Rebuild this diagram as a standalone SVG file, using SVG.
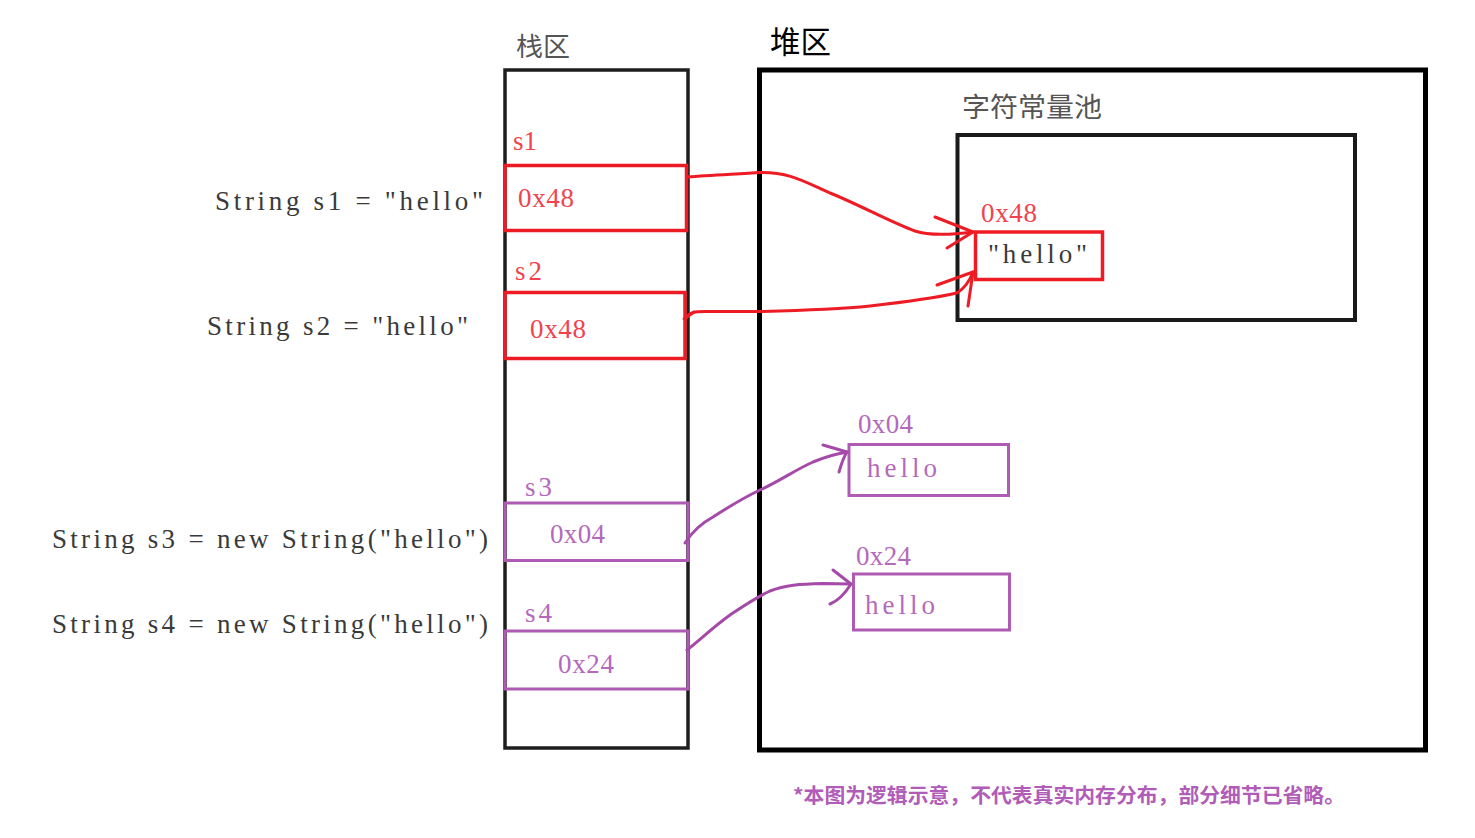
<svg xmlns="http://www.w3.org/2000/svg" width="1475" height="838" viewBox="0 0 1475 838">
<style>
  .code { font-family: "Liberation Serif", "Times New Roman", serif; font-size: 27px; fill: #3a3a3a; }
  .red { fill: #f0434e; }
  .pur { fill: #b569bd; }
  .gray { fill: #3a3a3a; }
  .cjk { font-family: "Noto Sans CJK SC", "Noto Sans", sans-serif; }
  .rbox { fill: none; stroke: #ed1c24; stroke-width: 3.5; }
  .pbox { fill: none; stroke: #ad5bb3; stroke-width: 3; }
  .rline { fill: none; stroke: #ed1c24; stroke-width: 3; stroke-linecap: round; stroke-linejoin: round; }
  .pline { fill: none; stroke: #a54aa8; stroke-width: 3; stroke-linecap: round; stroke-linejoin: round; }
</style>
<rect width="1475" height="838" fill="#ffffff"/>

<g id="code-lines">
  <text class="code" x="215" y="210" textLength="268" lengthAdjust="spacing">String s1 = "hello"</text>
  <text class="code" x="207" y="335" textLength="261" lengthAdjust="spacing">String s2 = "hello"</text>
  <text class="code" x="52" y="548" textLength="436" lengthAdjust="spacing">String s3 = new String("hello")</text>
  <text class="code" x="52" y="633" textLength="436" lengthAdjust="spacing">String s4 = new String("hello")</text>
</g>

<g id="stack">
  <text class="cjk" x="516" y="56" font-size="26.5" fill="#555555" textLength="54" lengthAdjust="spacingAndGlyphs">栈区</text>
  <rect x="505" y="70" width="183" height="678" fill="none" stroke="#1e1e1e" stroke-width="3.5"/>
</g>

<g id="stack-s1">
  <text class="code red" x="513" y="150" textLength="24" lengthAdjust="spacing">s1</text>
  <rect class="rbox" x="505" y="165.5" width="181.5" height="65"/>
  <text class="code red" x="518" y="207" textLength="56" lengthAdjust="spacing">0x48</text>
</g>

<g id="stack-s2">
  <text class="code red" x="515" y="280" textLength="27" lengthAdjust="spacing">s2</text>
  <rect class="rbox" x="505" y="292.5" width="180" height="66"/>
  <text class="code red" x="530" y="338" textLength="56" lengthAdjust="spacing">0x48</text>
</g>

<g id="stack-s3">
  <text class="code pur" x="525" y="496" textLength="27" lengthAdjust="spacing">s3</text>
  <rect class="pbox" x="505" y="503" width="183" height="57.5"/>
  <text class="code pur" x="550" y="543" textLength="55" lengthAdjust="spacing">0x04</text>
</g>

<g id="stack-s4">
  <text class="code pur" x="525" y="621.5" textLength="27" lengthAdjust="spacing">s4</text>
  <rect class="pbox" x="505" y="631" width="183" height="58"/>
  <text class="code pur" x="558" y="673" textLength="56" lengthAdjust="spacing">0x24</text>
</g>

<g id="heap">
  <text class="cjk" x="770" y="53" font-size="31" fill="#000000" textLength="61" lengthAdjust="spacingAndGlyphs">堆区</text>
  <rect x="759.5" y="70" width="666" height="680" fill="none" stroke="#000000" stroke-width="5"/>
</g>

<g id="string-pool">
  <text class="cjk" x="962" y="117" font-size="27" fill="#555555" textLength="140" lengthAdjust="spacingAndGlyphs">字符常量池</text>
  <rect x="957.5" y="135" width="397.5" height="185" fill="none" stroke="#1a1a1a" stroke-width="4"/>
</g>

<g id="pool-hello">
  <text class="code red" x="981" y="222" textLength="56" lengthAdjust="spacing">0x48</text>
  <rect class="rbox" x="975.5" y="232" width="127" height="47.5" stroke-width="4"/>
  <text class="code gray" x="988" y="263" textLength="99" lengthAdjust="spacing">"hello"</text>
</g>

<g id="heap-0x04">
  <text class="code pur" x="858" y="433" textLength="55" lengthAdjust="spacing">0x04</text>
  <rect class="pbox" x="849" y="444.5" width="159.5" height="51"/>
  <text class="code pur" x="867" y="477" textLength="70" lengthAdjust="spacing">hello</text>
</g>

<g id="heap-0x24">
  <text class="code pur" x="856" y="565" textLength="55" lengthAdjust="spacing">0x24</text>
  <rect class="pbox" x="853.5" y="574" width="156" height="56"/>
  <text class="code pur" x="865" y="614" textLength="70" lengthAdjust="spacing">hello</text>
</g>

<g id="connectors">
  <path class="rline" d="M688,177 C710,175 740,174 760,172.5 C790,172 805,182 830,193 C860,205 890,222 915,231 C930,236 950,235 973,232"/>
  <path class="rline" d="M935,217 L973,232 L947,248"/>
  <path class="rline" d="M686,318 C690,312 695,311.5 705,311.5 L760,311.5 C800,310.5 840,309 870,306 C905,302 935,298 957,293 C965,288 970,280 973,272"/>
  <path class="rline" d="M937,285 L973,272 L968,306"/>
  <path class="rline" d="M684,319 L694,312"/>
  <path class="pline" d="M685,543 C692,532 700,524 713,517 C730,506 745,497 760,490 C780,481 795,470 813,462 C825,457 835,454 847,452"/>
  <path class="pline" d="M823,445 L847,452 C843,458 841,465 839,472"/>
  <path class="pline" d="M687,650 C700,640 712,628 730,615 C745,605 755,598 770,591 C785,585 800,584 823,583.5 L851,584"/>
  <path class="pline" d="M833,570 L851,584 C846,592 840,600 830,604"/>
</g>

<g id="footnote">
  <text class="cjk" x="793" y="803" font-size="20" font-weight="700" fill="#b05cb8" textLength="552" lengthAdjust="spacingAndGlyphs">*本图为逻辑示意，不代表真实内存分布，部分细节已省略。</text>
</g>
</svg>
